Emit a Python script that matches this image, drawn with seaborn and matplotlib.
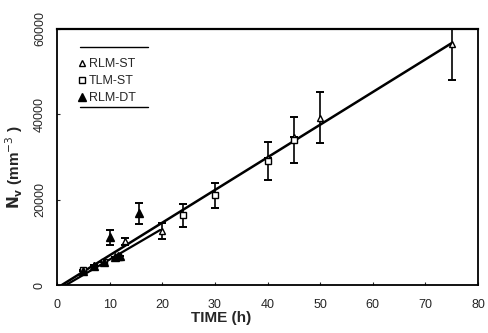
import numpy as np
import pandas as pd
import matplotlib
matplotlib.use("Agg")
import matplotlib.pyplot as plt
import seaborn as sns

# data
rlm_st_t = [7, 13, 20, 40, 45, 50, 75]
rlm_st_n = [4700, 10300, 12600, 29800, 34800, 39200, 56500]
rlm_st_err = [0, 800, 1900, 0, 0, 6000, 8500]

tlm_st_t = [5, 9, 24, 30, 40, 45]
tlm_st_n = [3500, 5300, 16300, 21000, 29000, 34000]
tlm_st_err = [0, 0, 2600, 3000, 4400, 5300]

rlm_dt_t = [5, 7, 9, 10, 11, 11.5, 12, 15.5]
rlm_dt_n = [3400, 4400, 5300, 11200, 6500, 6800, 6900, 16800]
rlm_dt_err = [0, 0, 0, 1700, 0, 0, 0, 2400]

# fitted lines (end points)
fit_st_t = [0.9, 75]
fit_st_n = [0, 56700]
fit_dt_t = [1.7, 19.6]
fit_dt_n = [0, 12900]

sns.set_style("ticks")
plt.rcParams["font.family"] = ["Liberation Sans", "DejaVu Sans"]

fig = plt.figure(figsize=(4.89, 3.33), dpi=100)
ax = fig.add_axes([0.1166, 0.144, 0.861, 0.769])

# fit lines
sns.lineplot(x=fit_st_t, y=fit_st_n, ax=ax, color="black", lw=1.8)
sns.lineplot(x=fit_dt_t, y=fit_dt_n, ax=ax, color="black", lw=1.6)

# error bars
for t, n, e in [(rlm_st_t, rlm_st_n, rlm_st_err),
                (tlm_st_t, tlm_st_n, tlm_st_err),
                (rlm_dt_t, rlm_dt_n, rlm_dt_err)]:
    ax.errorbar(t, n, yerr=e, fmt="none", ecolor="black", elinewidth=1.2,
                capsize=3, capthick=1.4)

# markers
ax.plot(rlm_st_t, rlm_st_n, ls="none", marker="^", ms=5, mfc="white",
        mec="black", mew=1, label="RLM-ST")
ax.plot(tlm_st_t, tlm_st_n, ls="none", marker="s", ms=4.5, mfc="white",
        mec="black", mew=1, label="TLM-ST")
ax.plot(rlm_dt_t, rlm_dt_n, ls="none", marker="^", ms=5.5, mfc="black",
        mec="black", mew=1, label="RLM-DT")

ax.set_xlim(0, 80)
ax.set_ylim(0, 60000)
ax.set_xticks([0, 10, 20, 30, 40, 50, 60, 70, 80])
ax.set_yticks([0, 20000, 40000, 60000])
ax.tick_params(direction="in", length=2, labelsize=9, width=0.8)
ax.tick_params(axis="y", labelrotation=90, pad=8)
for lab in ax.get_yticklabels():
    lab.set_va("center")
ax.tick_params(axis="x", pad=10)
for s in ax.spines.values():
    s.set_linewidth(1.3)
    s.set_color("black")
ax.spines["top"].set_linewidth(1.6)

ax.set_xlabel("TIME (h)", fontsize=11, fontweight="bold")
ax.xaxis.set_label_coords(0.39, -0.1)
ax.set_ylabel(r"$\mathbf{N_v}$ (mm$^{-3}$ )", fontsize=11, fontweight="bold")
ax.yaxis.set_label_coords(-0.076, 0.46)

leg = ax.legend(loc="upper left", bbox_to_anchor=(0.04, 0.905), frameon=False,
                fontsize=9, handlelength=0.5, handletextpad=0.3,
                labelspacing=0.4, borderaxespad=0)
ax.plot([0.055, 0.216], [0.93, 0.93], transform=ax.transAxes, color="black", lw=1)
ax.plot([0.055, 0.216], [0.695, 0.695], transform=ax.transAxes, color="black", lw=1)

fig.savefig("out.png", dpi=100)
